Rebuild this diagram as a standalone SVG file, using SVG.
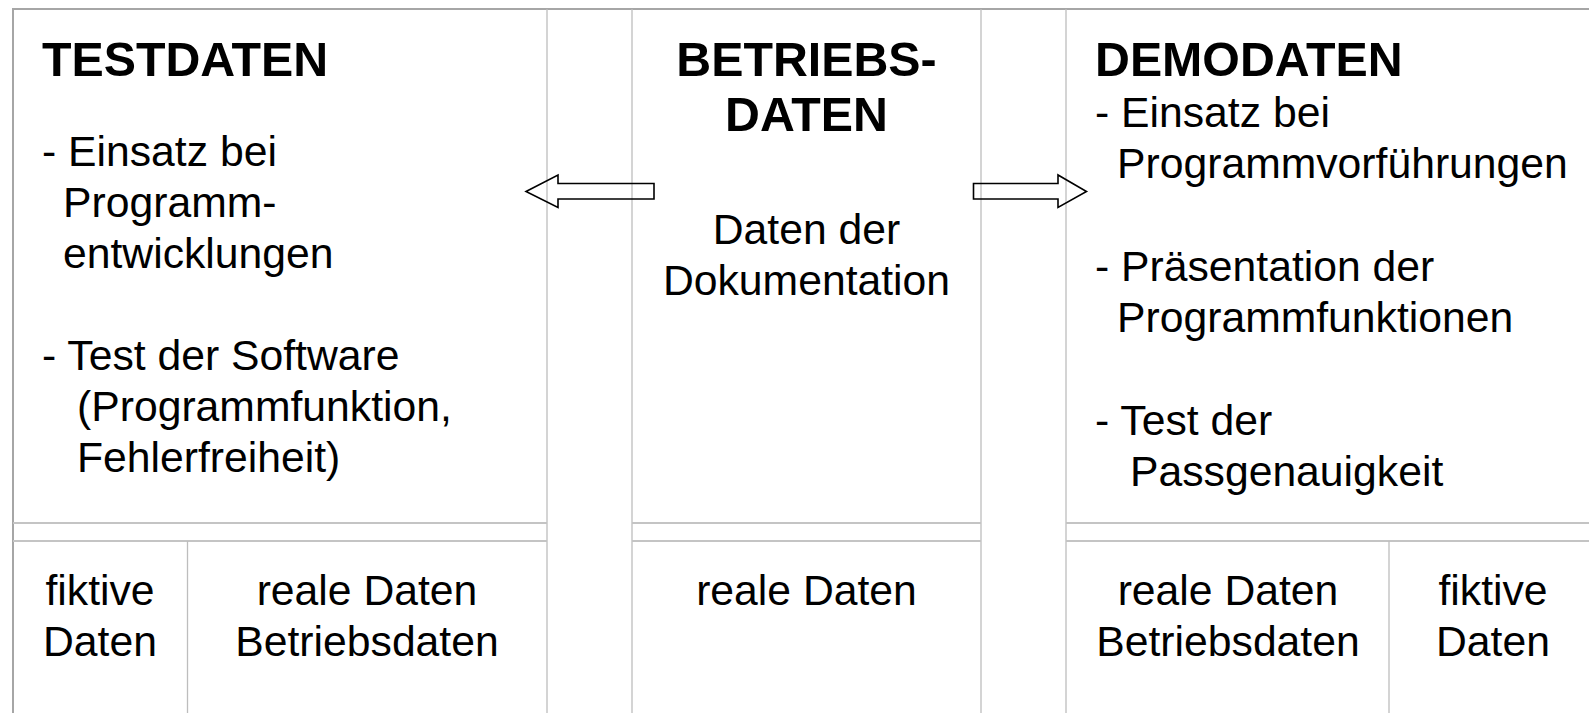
<svg xmlns="http://www.w3.org/2000/svg" width="1589" height="713" viewBox="0 0 1589 713">
<style>
.frame{fill:none;stroke:#a6a6a6;stroke-width:2}
.ln{stroke:#bdbdbd;stroke-width:1.3;fill:none}
.hl{stroke:#c4c4c4;stroke-width:2;fill:none}
.t{font-family:"Liberation Sans",Arial,sans-serif;font-size:42.7px;fill:#000}
.h{font-family:"Liberation Sans",Arial,sans-serif;font-size:48.3px;font-weight:bold;fill:#000}
.c{text-anchor:middle}
.arrow{fill:none;stroke:#000;stroke-width:1.6;stroke-linejoin:miter}
</style>
<rect x="0" y="0" width="1589" height="713" fill="#fff"/>
<g id="frame">
<rect class="frame" x="13" y="9" width="1590" height="720"/>
<line class="ln" x1="547" y1="9" x2="547" y2="713"/>
<line class="ln" x1="632" y1="9" x2="632" y2="713"/>
<line class="ln" x1="981" y1="9" x2="981" y2="713"/>
<line class="ln" x1="1066" y1="9" x2="1066" y2="713"/>
</g>
<g id="testdaten">
<line class="hl" x1="13" y1="523" x2="547" y2="523"/>
<line class="hl" x1="13" y1="541" x2="547" y2="541"/>
<text class="h" x="42" y="76">TESTDATEN</text>
<text class="t" x="42" y="166">- Einsatz bei</text>
<text class="t" x="63" y="217">Programm-</text>
<text class="t" x="63" y="268">entwicklungen</text>
<text class="t" x="42" y="370">- Test der Software</text>
<text class="t" x="77" y="421">(Programmfunktion,</text>
<text class="t" x="77" y="472">Fehlerfreiheit)</text>
</g>
<g id="testdaten-fiktiv">
<line class="ln" x1="187.5" y1="541" x2="187.5" y2="713"/>
<text class="t c" x="100" y="605">fiktive</text>
<text class="t c" x="100" y="656">Daten</text>
</g>
<g id="testdaten-real">
<text class="t c" x="367" y="605">reale Daten</text>
<text class="t c" x="367" y="656">Betriebsdaten</text>
</g>
<g id="betriebsdaten">
<line class="hl" x1="632" y1="523" x2="981" y2="523"/>
<line class="hl" x1="632" y1="541" x2="981" y2="541"/>
<text class="h c" x="806.5" y="76">BETRIEBS-</text>
<text class="h c" x="806.5" y="131">DATEN</text>
<text class="t c" x="806.5" y="244">Daten der</text>
<text class="t c" x="806.5" y="295">Dokumentation</text>
</g>
<g id="betriebsdaten-real">
<text class="t c" x="806.5" y="605">reale Daten</text>
</g>
<g id="demodaten">
<line class="hl" x1="1066" y1="523" x2="1589" y2="523"/>
<line class="hl" x1="1066" y1="541" x2="1589" y2="541"/>
<text class="h" x="1095" y="76">DEMODATEN</text>
<text class="t" x="1095" y="127">- Einsatz bei</text>
<text class="t" x="1117" y="178">Programmvorführungen</text>
<text class="t" x="1095" y="281">- Präsentation der</text>
<text class="t" x="1117" y="332">Programmfunktionen</text>
<text class="t" x="1095" y="435">- Test der</text>
<text class="t" x="1130" y="486">Passgenauigkeit</text>
</g>
<g id="demodaten-real">
<line class="ln" x1="1389" y1="541" x2="1389" y2="713"/>
<text class="t c" x="1228" y="605">reale Daten</text>
<text class="t c" x="1228" y="656">Betriebsdaten</text>
</g>
<g id="demodaten-fiktiv">
<text class="t c" x="1493" y="605">fiktive</text>
<text class="t c" x="1493" y="656">Daten</text>
</g>
<g id="connectors">
<polygon class="arrow" points="526,191.5 558,175 558,183.5 654,183.5 654,199 558,199 558,207.5"/>
<polygon class="arrow" points="973.5,183.5 1058,183.5 1058,175 1086.5,191.5 1058,207.5 1058,199 973.5,199"/>
</g>
</svg>
